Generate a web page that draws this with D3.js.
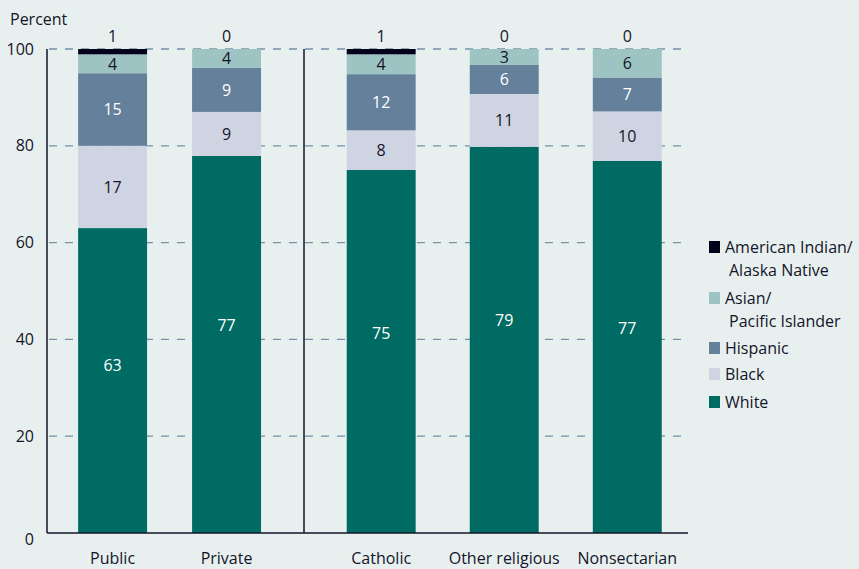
<!DOCTYPE html>
<html>
<head>
<meta charset="utf-8">
<script src="https://cdn.jsdelivr.net/npm/d3@7"></script>
<style>
  body { margin: 0; background: #e8f0ef; }
  svg text { font-family: "Open Sans", "Noto Sans", sans-serif; font-size: 16px; fill: #14142a; }
</style>
</head>
<body>
<svg id="chart" width="859" height="569"></svg>
<script>
// カテゴリ（左グループ / 右グループ）
var groupA = ["Public", "Private"],
    groupB = ["Catholic", "Other religious", "Nonsectarian"],
    cats = groupA.concat(groupB);

// 系列（下から積む順）
var races = ["White", "Black", "Hispanic", "Asian", "AmInd"];
var white    = [63.0, 77.9, 75.0, 79.8, 76.9],
    black    = [17.0,  9.1,  8.2, 10.9, 10.2],
    hispanic = [15.0,  9.1, 11.6,  6.0,  7.0],
    asian    = [ 3.9,  3.9,  4.1,  3.3,  5.9],
    amind    = [ 1.1,  0.0,  1.1,  0.0,  0.0];

// 図に印字されている数値
var lblWhite    = [63, 77, 75, 79, 77],
    lblBlack    = [17, 9, 8, 11, 10],
    lblHispanic = [15, 9, 12, 6, 7],
    lblAsian    = [4, 4, 4, 3, 6],
    lblAmInd    = [1, 0, 1, 0, 0];

var yTicks = [0, 20, 40, 60, 80, 100];

var legendItems = [
    {key: "AmInd",    lines: ["American Indian/", "Alaska Native"]},
    {key: "Asian",    lines: ["Asian/", "Pacific Islander"]},
    {key: "Hispanic", lines: ["Hispanic"]},
    {key: "Black",    lines: ["Black"]},
    {key: "White",    lines: ["White"]}
];

var colors = {White: "#006b63", Black: "#cfd4e2", Hispanic: "#64809b", Asian: "#9dc4c2", AmInd: "#02031a"},
    txtColors = {White: "#ffffff", Black: "#14142a", Hispanic: "#ffffff", Asian: "#14142a"};

var m = {l: 47, r: 688, t: 49, b: 533, div: 304};

// データ表を組み立て
var rows = cats.map(function(c, i){
    return {cat: c, White: white[i], Black: black[i], Hispanic: hispanic[i], Asian: asian[i], AmInd: amind[i],
            lbl: {White: lblWhite[i], Black: lblBlack[i], Hispanic: lblHispanic[i], Asian: lblAsian[i], AmInd: lblAmInd[i]}};
});

var svg = d3.select("#chart");

var y = d3.scaleLinear().domain([0, 100]).range([m.b, m.t]);
var xA = d3.scaleBand().domain(groupA).range([m.l, m.div]).paddingInner(0.395).paddingOuter(0.325).align(0.42),
    xB = d3.scaleBand().domain(groupB).range([m.div, m.r]).paddingInner(0.439).paddingOuter(0.28).align(0.62);
var x = function(c){ return groupA.indexOf(c) >= 0 ? xA(c) : xB(c) },
    bw = xA.bandwidth();

// グリッド線
svg.append("g").selectAll("line").data(yTicks.filter(function(t){return t > 0}))
    .enter().append("line")
    .attr("x1", m.l).attr("x2", m.r)
    .attr("y1", function(d){return y(d)}).attr("y2", function(d){return y(d)})
    .attr("stroke", "#7390a6").attr("stroke-width", 1.3)
    .attr("stroke-dasharray", "8,8").attr("stroke-dashoffset", -2);

// 積み上げ
var stack = d3.stack().keys(races)(rows);

var layer = svg.append("g").selectAll("g").data(stack).enter().append("g")
    .attr("fill", function(d){return colors[d.key]});

layer.selectAll("rect").data(function(d){return d})
    .enter().append("rect")
    .attr("x", function(d){return x(d.data.cat)})
    .attr("width", bw)
    .attr("y", function(d){return y(d[1])})
    .attr("height", function(d){return y(d[0]) - y(d[1])});

// 各セグメントのラベル
stack.forEach(function(s){
    if (s.key === "AmInd") return;
    svg.append("g").selectAll("text").data(s).enter().append("text")
        .attr("x", function(d){return x(d.data.cat) + bw / 2})
        .attr("y", function(d){
            var top = y(d[1]), bot = y(d[0]);
            return s.key === "White" ? top + (bot - top) * 0.45 : (top + bot) / 2;
        })
        .attr("dy", "0.36em")
        .attr("text-anchor", "middle")
        .style("fill", txtColors[s.key])
        .text(function(d){return d.data.lbl[s.key]});
});

// American Indian はバーの上に表示
svg.append("g").selectAll("text").data(rows).enter().append("text")
    .attr("x", function(d){return x(d.cat) + bw / 2})
    .attr("y", y(100) - 13)
    .attr("dy", "0.36em")
    .attr("text-anchor", "middle")
    .text(function(d){return d.lbl.AmInd});

// 軸
var yAxis = d3.axisLeft(y).tickValues(yTicks).tickSize(0).tickPadding(13);
var gy = svg.append("g").attr("transform", "translate(" + m.l + ",0)").call(yAxis);
gy.select(".domain").remove();
gy.selectAll("text").style("font-size", "16px").style("font-family", null);
gy.select(".tick:first-of-type text").attr("dy", "0.7em");

svg.append("line").attr("x1", m.l).attr("x2", m.l).attr("y1", m.t).attr("y2", m.b)
    .attr("stroke", "#14142a").attr("stroke-width", 1.5);
svg.append("line").attr("x1", m.l).attr("x2", m.r).attr("y1", m.b).attr("y2", m.b)
    .attr("stroke", "#14142a").attr("stroke-width", 1.5);
svg.append("line").attr("x1", m.div).attr("x2", m.div).attr("y1", m.t).attr("y2", m.b)
    .attr("stroke", "#14142a").attr("stroke-width", 1.5);

// カテゴリ名
svg.append("g").selectAll("text").data(cats).enter().append("text")
    .attr("x", function(d){return x(d) + bw / 2})
    .attr("y", 564)
    .attr("text-anchor", "middle")
    .text(function(d){return d});

svg.append("text").attr("x", 10).attr("y", 25).text("Percent");

// 凡例
var ly = [241, 292, 342, 368, 396];
var lg = svg.append("g").selectAll("g").data(legendItems).enter().append("g")
    .attr("transform", function(d, i){return "translate(709," + ly[i] + ")"});
lg.append("rect").attr("width", 11).attr("height", 12).attr("fill", function(d){return colors[d.key]});
lg.each(function(d){
    var g = d3.select(this);
    d.lines.forEach(function(t, j){
        g.append("text").attr("x", j === 0 ? 16 : 20).attr("y", 6 + j * 23)
            .attr("dy", "0.36em").text(t);
    });
});
</script>
</body>
</html>
